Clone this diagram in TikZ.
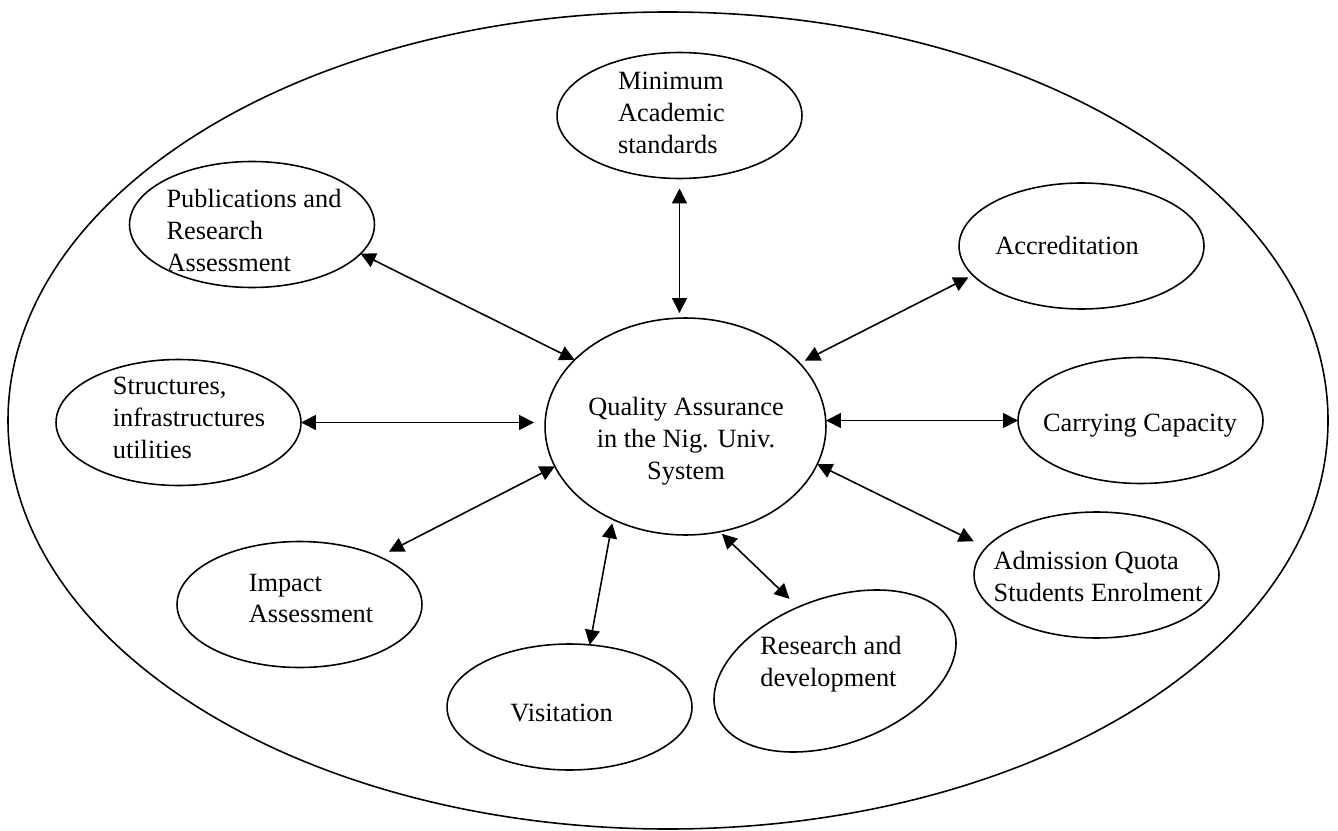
\documentclass[tikz,border=0pt]{standalone}
\usepackage{fontspec}
\setmainfont{Liberation Serif}
\usetikzlibrary{shapes.geometric,arrows.meta}

\begin{document}
\begin{tikzpicture}[x=0.02cm,y=-0.02cm,>={Triangle[length=8.5pt,width=8.5pt]},
  bubble/.style={draw,ellipse,line width=0.9pt,inner sep=0pt,outer sep=0pt,minimum width=4.9cm,minimum height=2.52cm},
  lbl/.style={align=left,inner sep=0pt,font=\fontsize{15}{18.2}\selectfont},
  link/.style={<->,line width=0.9pt}]
\useasboundingbox (0,0) rectangle (1338,831);
% outer frame
\draw[line width=0.9pt] (668,420.5) ellipse [x radius=660,y radius=408.5];

% centre
\node[bubble,minimum width=5.62cm,minimum height=4.34cm] (qa) at (685.5,426.5) {};
\node[lbl,align=center] (qatxt) at (686,441.5) {Quality Assurance\\in the Nig. Univ.\\System};

% factors
\node[bubble] (mas) at (679.5,115.5) {};
\node[lbl] (mastxt) at (671.5,112.5) {Minimum\\Academic\\standards};
\node[bubble] (pub) at (252,224.5) {};
\node[lbl] (pubtxt) at (254,230.5) {Publications and\\Research\\Assessment};
\node[bubble] (acc) at (1081.5,246) {};
\node[lbl] (acctxt) at (1067,245.5) {Accreditation};
\node[bubble] (str) at (178.5,422.5) {};
\node[lbl] (strtxt) at (189,417.5) {Structures,\\infrastructures\\utilities};
\node[bubble] (cc) at (1140.5,420.5) {};
\node[lbl] (cctxt) at (1140,425.5) {Carrying Capacity};
\node[bubble] (imp) at (299.5,604.5) {};
\node[lbl] (imptxt) at (311,598.5) {Impact\\Assessment};
\node[bubble] (adm) at (1096.5,575) {};
\node[lbl] (admtxt) at (1098,576.5) {Admission Quota\\Students Enrolment};
\node[bubble] (vis) at (569.5,707) {};
\node[lbl] (vistxt) at (561.5,712.5) {Visitation};
\node[bubble,rotate=20,minimum width=5.04cm,minimum height=2.92cm] (rd) at (835,671) {};
\node[lbl] (rdtxt) at (831,664.5) {Research and\\development};

% links
\draw[link,shorten <=0.2cm,shorten >=0.1cm] (mas.south) -- (mas.south |- qa.north);
\draw[link] (pub.-15) -- (qa.149);
\draw[link,shorten <=0.1cm,shorten >=0.12cm] (acc.195) -- (qa.29);
\draw[link,shorten >=0.22cm] (str.east) -- (str.east -| qa.west);
\draw[link] (cc.west -| qa.east) -- (cc.west);
\draw[link,shorten <=0.22cm] (imp.31) -- (qa.197);
\draw[link,shorten <=0.28cm] (adm.166) -- (qa.-16);
\draw[link,shorten <=0.08cm] (qa.232) -- (vis.72);
\draw[link,shorten <=0.06cm,shorten >=0.24cm] (qa.-72) -- (rd.100);
\end{tikzpicture}
\end{document}
